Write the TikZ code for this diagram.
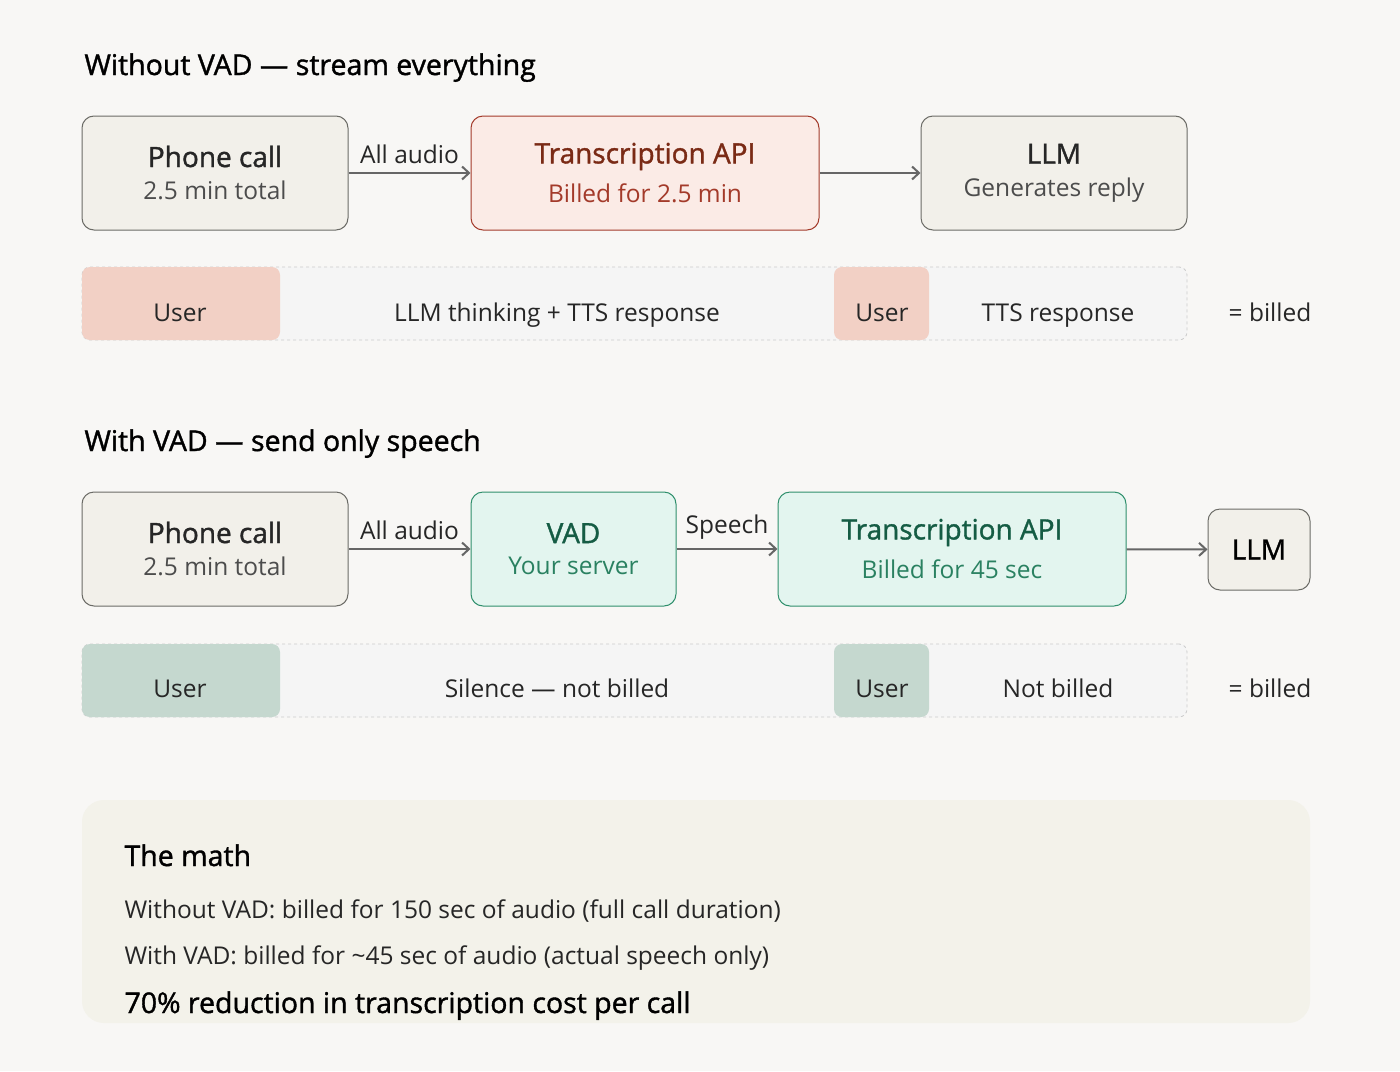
\documentclass[tikz,border=0pt]{standalone}
\usepackage{fontspec}
\setmainfont{Open Sans}
\newfontfamily\med{Open Sans}[FakeBold=1.3]
\begin{document}
\begin{tikzpicture}[x=1pt,y=-1pt,
 box/.style={draw=#1, rounded corners=12pt, line width=1pt, align=center, inner sep=0pt},
 arr/.style={draw=black!60, line width=2pt, ->, >={Straight Barb[length=7pt,width=13pt]}},
 lbl/.style={font=\fontsize{24.5}{27}\selectfont, text=black!85},
 ttl/.style={font=\fontsize{28.5}{31}\selectfont\med, text=black, anchor=base west},
 bar/.style={draw=black!20, dashed, line width=0.8pt, fill=gray!8, rounded corners=8pt},
 usr/.style={rounded corners=8pt, inner sep=0pt}]
\usetikzlibrary{arrows.meta}
\definecolor{bg}{HTML}{F8F7F5}
\definecolor{nf}{HTML}{F2F0EA}
\definecolor{nd}{HTML}{6B6B66}
\definecolor{rf}{HTML}{FBEBE6}
\definecolor{rd}{HTML}{A33A2A}
\definecolor{rt}{HTML}{7A2A15}
\definecolor{gf}{HTML}{E3F5EF}
\definecolor{gd}{HTML}{2F8F6C}
\definecolor{gt}{HTML}{155C44}
\definecolor{pu}{HTML}{F2D0C5}
\definecolor{gu}{HTML}{C5D8CF}
\definecolor{mf}{HTML}{F3F2EA}
\fill[bg] (0,0) rectangle (1400,1071);
\useasboundingbox (0,0) rectangle (1400,1071);
\newcommand\two[4]{{\fontsize{28}{31}\selectfont\med\color{#1}#2}\\[13pt]{\fontsize{24.5}{27}\selectfont\color{#3}#4}}
% Section 1
\node[ttl] (t1) at (81,75) {Without VAD — stream everything};
\node[box=nd, fill=nf, minimum width=266, minimum height=114] (p1) at (215,173) {\two{black!85}{Phone call}{black!70}{2.5 min total}};
\node[box=rd, fill=rf, minimum width=348, minimum height=114] (tr1) at (645,173) {\two{rt}{Transcription API}{rd}{Billed for 2.5 min}};
\node[box=nd, fill=nf, minimum width=266, minimum height=114] (l1) at (1054,173) {\two{black!85}{LLM}{black!70}{Generates reply}};
\draw[arr] (p1) -- node[lbl, above=5pt] {All audio} (tr1);
\draw[arr] (tr1) -- (l1);
\node[bar, minimum width=1105, minimum height=73, inner sep=0pt] (b1) at (634.5,303.5) {};
\node[usr, fill=pu, minimum width=198, minimum height=73] (u1) at (181,303.5) {};
\node[usr, fill=pu, minimum width=95, minimum height=73] (u2) at (881.5,303.5) {};
\node[lbl, anchor=base] (x1) at (180,321) {User};
\node[lbl, anchor=base] (x2) at (557,321) {LLM thinking + TTS response};
\node[lbl, anchor=base] (x3) at (882,321) {User};
\node[lbl, anchor=base] (x4) at (1058,321) {TTS response};
\node[lbl, anchor=base] (x5) at (1270,321) {= billed};
% Section 2
\node[ttl] (t2) at (81,451) {With VAD — send only speech};
\node[box=nd, fill=nf, minimum width=266, minimum height=114] (p2) at (215,549) {\two{black!85}{Phone call}{black!70}{2.5 min total}};
\node[box=gd, fill=gf, minimum width=205, minimum height=114] (v2) at (573.5,549) {\two{gt}{VAD}{gd!90!black}{Your server}};
\node[box=gd, fill=gf, minimum width=348, minimum height=114] (tr2) at (952,549) {\two{gt}{Transcription API}{gd!90!black}{Billed for 45 sec}};
\node[box=nd, fill=nf, minimum width=102, minimum height=81, font=\fontsize{28}{31}\selectfont\med] (l2) at (1259,549.5) {LLM};
\draw[arr] (p2) -- node[lbl, above=5pt] {All audio} (v2);
\draw[arr] (v2) -- node[lbl, above=5pt] {Speech} (tr2);
\draw[arr] (tr2) -- (l2);
\node[bar, minimum width=1105, minimum height=73, inner sep=0pt] (b2) at (634.5,680.5) {};
\node[usr, fill=gu, minimum width=198, minimum height=73] (u3) at (181,680.5) {};
\node[usr, fill=gu, minimum width=95, minimum height=73] (u4) at (881.5,680.5) {};
\node[lbl, anchor=base] (y1) at (180,697) {User};
\node[lbl, anchor=base] (y2) at (557,697) {Silence — not billed};
\node[lbl, anchor=base] (y3) at (882,697) {User};
\node[lbl, anchor=base] (y4) at (1058,697) {Not billed};
\node[lbl, anchor=base] (y5) at (1270,697) {= billed};
% Math
\node[fill=mf, rounded corners=22pt, minimum width=1228, minimum height=223, inner sep=0pt] (m) at (696,911.5) {};
\node[ttl] (m1) at (121,866) {The math};
\node[lbl, anchor=base west] (m2) at (121,918) {Without VAD: billed for 150 sec of audio (full call duration)};
\node[lbl, anchor=base west] (m3) at (121,964) {With VAD: billed for \textasciitilde 45 sec of audio (actual speech only)};
\node[ttl] (m4) at (121,1013) {70\% reduction in transcription cost per call};
\end{tikzpicture}
\end{document}
